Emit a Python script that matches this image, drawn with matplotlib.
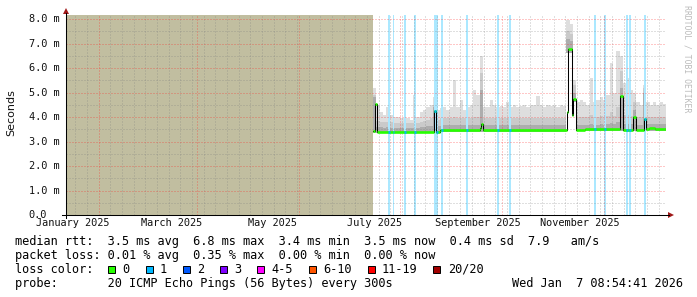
import numpy as np
import pandas as pd
import matplotlib
matplotlib.use("Agg")
import matplotlib.pyplot as plt
import matplotlib.dates as mdates
from matplotlib.ticker import MultipleLocator
from matplotlib.patches import Rectangle, Polygon
from matplotlib.lines import Line2D
from matplotlib.transforms import blended_transform_factory
from matplotlib.colors import to_rgb

W, H = 697, 297
MONO = "DejaVu Sans Mono"

# graph covers the last 360 days
t_start = "2025-01-12 08:54:41"
t_end = "2026-01-07 08:54:41"
unknown_until = "2025-07-15 12:00"

# smoke (ms), 2-day bins from the first data
smoke_start = "2025-07-15 12:00"
smoke_top = [5.2, 4.5, 4.2, 4.1, 4.4, 4.1, 4.0, 4.0, 3.95, 3.95,
             3.95, 3.9, 4.9, 4.0, 4.2, 4.3, 4.4, 4.5, 4.8, 4.3,
             4.35, 4.4, 4.3, 4.4, 5.5, 4.4, 4.7, 4.3, 4.4, 4.5,
             5.1, 4.9, 6.5, 4.4, 4.4, 4.7, 4.5, 4.4, 4.45, 4.4,
             4.6, 4.4, 4.5, 4.4, 4.45, 4.5, 4.4, 4.5, 4.5, 4.85,
             4.5, 4.4, 4.5, 4.45, 4.5, 4.4, 4.5, 4.45, 7.95, 7.8,
             5.5, 4.6, 4.7, 4.6, 4.5, 5.6, 4.6, 4.7, 4.8, 4.7,
             4.9, 6.2, 5.0, 6.7, 6.5, 5.4, 5.6, 5.1, 5.0, 4.6,
             4.5, 5.3, 4.6, 4.5, 4.6, 4.5, 4.6, 4.55]
smoke_mid = [4.9, 3.85, 3.8, 3.78, 3.8, 3.78, 3.76, 3.76, 3.75, 3.75,
             3.75, 3.74, 3.76, 3.76, 3.8, 3.85, 3.9, 3.95, 4.5, 3.9,
             3.95, 3.95, 3.95, 3.95, 4.0, 3.95, 3.95, 3.95, 3.95, 3.98,
             4.0, 4.0, 5.8, 3.98, 3.95, 3.95, 3.95, 3.95, 3.95, 3.95,
             3.95, 3.95, 3.95, 3.95, 3.95, 3.95, 3.95, 3.95, 3.95, 3.98,
             3.95, 3.95, 3.95, 3.95, 3.95, 3.95, 3.95, 3.95, 7.5, 7.4,
             5.3, 4.0, 4.0, 4.0, 4.0, 4.1, 4.0, 4.0, 4.05, 4.0,
             4.05, 4.2, 4.05, 4.4, 5.9, 4.1, 4.1, 4.05, 4.6, 4.0,
             4.0, 5.2, 4.0, 4.0, 4.0, 4.0, 4.0, 4.0]
smoke_dark = [4.8, 3.6, 3.58, 3.57, 3.58, 3.57, 3.56, 3.56, 3.55, 3.55,
              3.55, 3.55, 3.56, 3.56, 3.58, 3.6, 3.62, 3.65, 4.4, 3.62,
              3.65, 3.66, 3.66, 3.66, 3.68, 3.66, 3.66, 3.66, 3.66, 3.67,
              3.68, 3.68, 5.1, 3.67, 3.66, 3.66, 3.66, 3.66, 3.66, 3.66,
              3.66, 3.66, 3.66, 3.66, 3.66, 3.66, 3.66, 3.66, 3.66, 3.67,
              3.66, 3.66, 3.66, 3.66, 3.66, 3.66, 3.66, 3.68, 7.2, 7.1,
              5.0, 3.68, 3.68, 3.68, 3.68, 3.72, 3.68, 3.68, 3.7, 3.68,
              3.7, 3.75, 3.7, 3.8, 5.2, 3.72, 3.72, 3.7, 4.3, 3.68,
              3.68, 5.0, 3.7, 3.7, 3.7, 3.7, 3.7, 3.7]
smoke_low = [3.33, 3.33, 3.33, 3.33, 3.33, 3.33, 3.33, 3.33, 3.33, 3.33,
             3.33, 3.33, 3.33, 3.33, 3.33, 3.33, 3.33, 3.33, 3.35, 3.35,
             3.38, 3.4, 3.4, 3.4, 3.4, 3.4, 3.4, 3.4, 3.4, 3.4,
             3.4, 3.4, 3.4, 3.4, 3.4, 3.4, 3.4, 3.4, 3.4, 3.4,
             3.4, 3.4, 3.4, 3.4, 3.4, 3.4, 3.4, 3.4, 3.4, 3.4,
             3.4, 3.4, 3.4, 3.4, 3.4, 3.4, 3.4, 3.4, 6.6, 6.6,
             4.6, 3.42, 3.42, 3.42, 3.42, 3.42, 3.42, 3.42, 3.42, 3.42,
             3.42, 3.42, 3.42, 3.42, 3.42, 3.42, 3.42, 3.42, 3.42, 3.42,
             3.42, 3.42, 3.42, 3.42, 3.42, 3.42, 3.42, 3.42]

# median rtt (ms), value holds from each time until the next
med_time = ["2025-07-15 12:00", "2025-07-16 23:00", "2025-07-18 04:00",
            "2025-08-20 21:00", "2025-08-22 09:00", "2025-08-24 18:00",
            "2025-09-17 18:00", "2025-09-18 13:00", "2025-09-19 18:00",
            "2025-11-08 18:00", "2025-11-09 18:00", "2025-11-12 03:00",
            "2025-11-12 18:00", "2025-11-14 04:00", "2025-11-20 00:00",
            "2025-12-10 23:00", "2025-12-12 09:00", "2025-12-18 18:00",
            "2025-12-20 02:00", "2025-12-24 21:00", "2025-12-26 06:00",
            "2025-12-28 00:00", "2026-01-01 00:00", "2026-01-03 00:00",
            "2026-01-05 00:00"]
med_val = [3.42, 4.55, 3.40,
           4.25, 3.40, 3.47,
           3.56, 3.72, 3.47,
           4.20, 6.76, 4.08,
           4.72, 3.47, 3.50,
           4.87, 3.47, 4.01,
           3.47, 3.94, 3.52,
           3.54, 3.50, 3.53,
           3.50]

# periods with lost pings
loss_start = ["2025-07-24 07:00", "2025-07-27 07:00", "2025-08-02 21:00",
              "2025-08-09 04:00", "2025-08-20 21:00", "2025-08-25 09:00",
              "2025-09-09 02:00", "2025-09-28 00:00", "2025-10-05 04:00",
              "2025-11-24 21:00", "2025-12-01 04:00", "2025-12-14 02:00",
              "2025-12-16 04:00", "2025-12-24 21:00"]
loss_end = ["2025-07-25 12:00", "2025-07-28 11:00", "2025-08-04 02:00",
            "2025-08-10 09:00", "2025-08-23 14:00", "2025-08-26 14:00",
            "2025-09-10 07:00", "2025-09-29 05:00", "2025-10-06 09:00",
            "2025-11-26 02:00", "2025-12-02 09:00", "2025-12-15 07:00",
            "2025-12-17 09:00", "2025-12-26 02:00"]
loss_pings = [1, 1, 1, 1, 1, 1, 1, 1, 1, 1, 1, 1, 1, 1]

loss_labels = ["0", "1", "2", "3", "4-5", "6-10", "11-19", "20/20"]
loss_colors = ["#26ff00", "#00b8ff", "#0059ff", "#7e00ff",
               "#ff00ff", "#ff5500", "#ff0000", "#a10000"]
loss_upper = [0, 1, 2, 3, 5, 10, 19, 20]

month_labels = ["January 2025", "March 2025", "May 2025",
                "July 2025", "September 2025", "November 2025"]
month_label_at = ["2025-01-16 12:00", "2025-03-16 12:00", "2025-05-16 12:00",
                  "2025-07-16 12:00", "2025-09-16 12:00", "2025-11-16 12:00"]
y_ticks = [0, 1, 2, 3, 4, 5, 6, 7, 8]

stats_rtt = "median rtt:  3.5 ms avg  6.8 ms max  3.4 ms min  3.5 ms now  0.4 ms sd  7.9   am/s"
stats_loss = "packet loss: 0.01 % avg  0.35 % max  0.00 % min  0.00 % now"
probe_text = "probe:       20 ICMP Echo Pings (56 Bytes) every 300s"
stamp_text = "Wed Jan  7 08:54:41 2026"


def num(s):
    return mdates.date2num(pd.Timestamp(s))


def loss_color(n):
    for up, col in zip(loss_upper, loss_colors):
        if n <= up:
            return col
    return loss_colors[-1]


def fx(x):
    return x / W


def fy(y):
    return 1 - y / H


fig = plt.figure(figsize=(W / 100, H / 100), dpi=100)
fig.patch.set_facecolor("white")
ax = fig.add_axes([fx(66), fy(215), 600 / W, (215 - 14.7) / H])
ax.set_facecolor("white")
ax.xaxis_date()
ax.set_xlim(num(t_start), num(t_end))
ax.set_ylim(0, 8.18)

# no data yet
ax.axvspan(num(t_start), num(unknown_until), color="#c1bea0", lw=0, zorder=1)

# smoke
edges = mdates.date2num(pd.date_range(smoke_start, periods=len(smoke_top) + 1, freq="2D"))
low = np.append(smoke_low, smoke_low[-1])
for hi, col in [(smoke_top, "#dedede"), (smoke_mid, "#cacaca"), (smoke_dark, "#adadad")]:
    ax.fill_between(edges, low, np.append(hi, hi[-1]), step="post",
                    color=col, lw=0, zorder=1.1)

# loss bars
for s, e, n in zip(loss_start, loss_end, loss_pings):
    c = 1 - 0.33 * (1 - np.array(to_rgb(loss_color(n))))
    ax.axvspan(num(s), num(e), color=c, lw=0, zorder=1.3)

# median line
mt = np.append([num(t) for t in med_time], num(t_end))
mv = np.array(med_val)
ax.step(mt, np.append(mv, mv[-1]), where="post", color="black", lw=0.75, zorder=3)
hx, hy = [], []
for k in range(len(mv)):
    hx += [mt[k], mt[k + 1], np.nan]
    hy += [mv[k], mv[k], np.nan]
ax.plot(hx, hy, color=loss_colors[0], lw=1.9, solid_capstyle="butt", zorder=3.5)
for s, e, n in zip(loss_start, loss_end, loss_pings):
    a, b = num(s), num(e)
    for k in range(len(mv)):
        lo, hi = max(a, mt[k]), min(b, mt[k + 1])
        if hi > lo:
            ax.plot([lo, hi], [mv[k], mv[k]], color=loss_color(n), lw=1.9,
                    solid_capstyle="butt", zorder=3.6)

# grid
ax.xaxis.set_major_locator(mdates.MonthLocator(bymonth=[2, 4, 6, 8, 10, 12]))
ax.xaxis.set_minor_locator(mdates.WeekdayLocator(byweekday=mdates.SA))
ax.yaxis.set_major_locator(MultipleLocator(1))
ax.yaxis.set_minor_locator(MultipleLocator(0.5))
ax.grid(which="major", color="#ff2020", alpha=0.5, lw=0.72, linestyle=(0, (1, 2)))
ax.grid(which="minor", color="#808080", alpha=0.5, lw=0.72, linestyle=(0, (1, 2)))
ax.set_axisbelow(False)
ax.tick_params(which="both", length=0, labelbottom=False, labelleft=False)
for sp in ax.spines.values():
    sp.set_visible(False)

# axes with arrows
fig.add_artist(Line2D([fx(62), fx(669)], [fy(215), fy(215)], color="black", lw=0.75))
fig.add_artist(Line2D([fx(66), fx(66)], [fy(218), fy(13)], color="black", lw=0.75))
fig.add_artist(Polygon([[fx(668), fy(212)], [fx(674), fy(215)], [fx(668), fy(218)]],
                       closed=True, color="#a01818", lw=0, transform=fig.transFigure))
fig.add_artist(Polygon([[fx(63), fy(14)], [fx(66), fy(8)], [fx(69), fy(14)]],
                       closed=True, color="#a01818", lw=0, transform=fig.transFigure))

# tick labels
ytr = blended_transform_factory(fig.transFigure, ax.transData)
for v in y_ticks:
    lab = "0.0" if v == 0 else f"{v:.1f} m"
    ax.text(fx(28.8), v, lab, transform=ytr, ha="left", va="center",
            fontsize=7.4, family=MONO, color="#111111")
xtr = blended_transform_factory(ax.transData, fig.transFigure)
for lab, d in zip(month_labels, month_label_at):
    ax.text(num(d), fy(226.5), lab, transform=xtr, ha="center", va="baseline",
            fontsize=7.4, family=MONO, color="#111111")

fig.text(fx(11), fy(113), "Seconds", rotation=90, ha="center", va="center",
         fontsize=8, family="DejaVu Sans", color="#111111")
fig.text(fx(687.5), fy(5), "RRDTOOL / TOBI OETIKER", rotation=270, ha="center", va="top",
         fontsize=5.9, family=MONO, color="#bbbbbb")

# legend
LF = 8.55
pitch = LF * 100 / 72 * 0.602
fig.text(fx(15.3), fy(245), stats_rtt, fontsize=LF, family=MONO, va="baseline")
fig.text(fx(15.3), fy(259), stats_loss, fontsize=LF, family=MONO, va="baseline")
fig.text(fx(15.3), fy(273), "loss color:", fontsize=LF, family=MONO, va="baseline")
bx = 108.3
for lab, col in zip(loss_labels, loss_colors):
    fig.add_artist(Rectangle((fx(bx), fy(272.5)), 7 / W, 7 / H, facecolor=col,
                             edgecolor="black", lw=0.7, transform=fig.transFigure))
    fig.text(fx(bx + 14.3), fy(273), lab, fontsize=LF, family=MONO, va="baseline")
    bx += (len(lab) + 4) * pitch + 1.5
fig.text(fx(15.3), fy(287), probe_text, fontsize=LF, family=MONO, va="baseline")
fig.text(fx(683.5), fy(287), stamp_text, fontsize=LF, family=MONO, va="baseline", ha="right")

fig.savefig("out.png", dpi=100)
